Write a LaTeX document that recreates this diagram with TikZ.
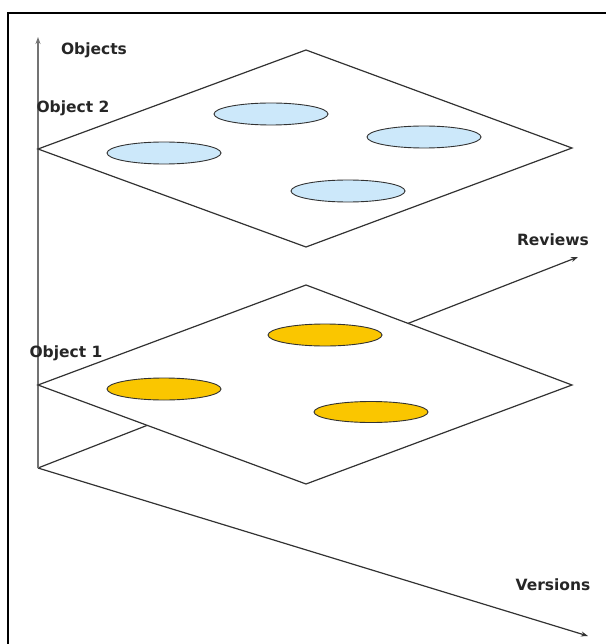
\documentclass[tikz,border=0pt]{standalone}
\usepackage{fontspec}
\setmainfont{DejaVu Sans}
\usetikzlibrary{shapes.geometric,arrows.meta}
\definecolor{lblue}{RGB}{204,232,250}
\definecolor{gold}{RGB}{250,198,0}
\definecolor{edge}{RGB}{50,50,50}
\tikzset{
  lbl/.style={font=\fontsize{15.5}{18}\selectfont\bfseries, inner sep=0pt, text=black!85},
  plane/.style={draw=edge, line width=1.2pt, fill=white, line join=miter},
  axis/.style={draw=edge, line width=1.2pt, -{Stealth[length=7pt,width=5pt]}},
  vaxis/.style={draw=black!55, line width=1.3pt, -{Stealth[length=7pt,width=5pt]}},
  blob/.style={ellipse, draw=edge, line width=0.9pt, inner sep=0pt, minimum width=114pt, minimum height=22pt},
  blueblob/.style={blob, fill=lblue},
  goldblob/.style={blob, fill=gold},
  frameline/.style={draw=black, line width=2.6pt}
}
\begin{document}
\begin{tikzpicture}[x=1pt,y=-1pt]
\useasboundingbox (0,0) rectangle (606,644);
% frame (top and left)
\coordinate (fbl) at (8,644);
\coordinate (ftl) at (8,13);
\coordinate (ftr) at (606,13);
\draw[frameline] (fbl) -- (ftl) -- (ftr);
% axes
\coordinate (o) at (38,468);
\coordinate (ytip) at (38,37);
\coordinate (rtip) at (578,257);
\coordinate (vtip) at (588,636);
\draw[axis] (o) -- (rtip);
\draw[axis] (o) -- (vtip);
\draw[vaxis] (o) -- (ytip);
% bottom plane (Object 1)
\coordinate (b1l) at (38,385);
\coordinate (b1t) at (306,285);
\coordinate (b1r) at (572,385);
\coordinate (b1b) at (306,484);
\draw[plane] (b1l) -- (b1t) -- (b1r) -- (b1b) -- cycle;
\node[goldblob] (e5) at (164,389) {};
\node[goldblob] (e6) at (325,335) {};
\node[goldblob, minimum height=21pt] (e7) at (371,412) {};
% top plane (Object 2)
\coordinate (b2l) at (38,149);
\coordinate (b2t) at (306,50);
\coordinate (b2r) at (572,148);
\coordinate (b2b) at (306,247);
\draw[plane] (b2l) -- (b2t) -- (b2r) -- (b2b) -- cycle;
\node[blueblob] (e1) at (164,153) {};
\node[blueblob] (e2) at (271,114) {};
\node[blueblob] (e3) at (424,137) {};
\node[blueblob] (e4) at (348,191) {};
% labels
\node[lbl] (lobjects) at (94,50) {Objects};
\node[lbl] (lobj2) at (73,108) {Object 2};
\node[lbl] (lobj1) at (66,353) {Object 1};
\node[lbl] (lreviews) at (553,240) {Reviews};
\node[lbl] (lversions) at (553,585) {Versions};
\end{tikzpicture}
\end{document}
